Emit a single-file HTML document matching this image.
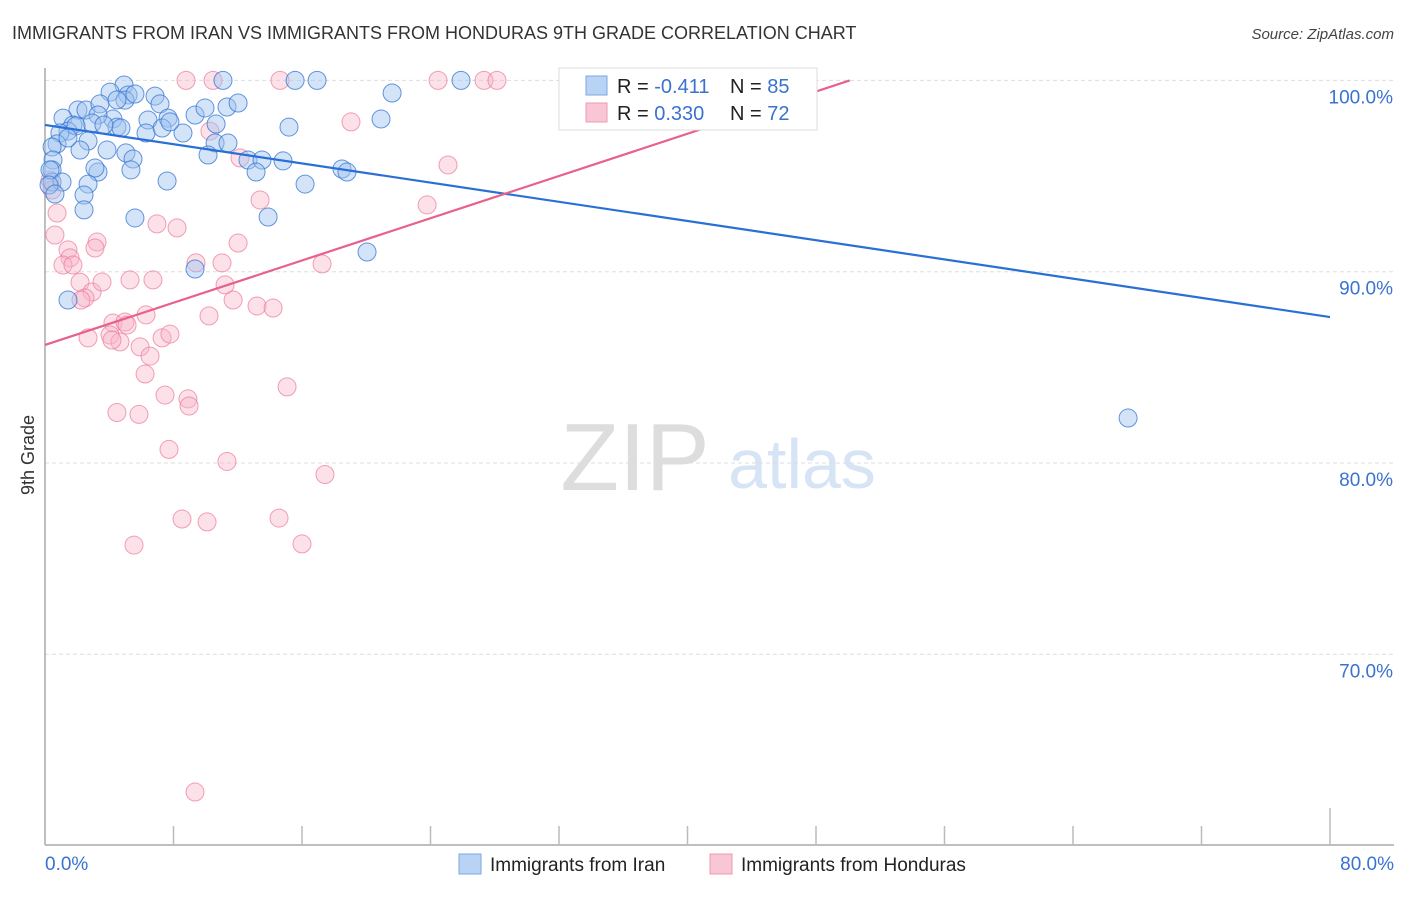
<!DOCTYPE html>
<html><head><meta charset="utf-8"><style>
body{margin:0;background:#fff;font-family:"Liberation Sans",sans-serif;}
svg text{font-family:"Liberation Sans",sans-serif;}
</style></head><body>
<svg id="chart" width="1406" height="892" xmlns="http://www.w3.org/2000/svg">
<text x="12" y="39" font-size="18" fill="#333">IMMIGRANTS FROM IRAN VS IMMIGRANTS FROM HONDURAS 9TH GRADE CORRELATION CHART</text>
<text x="1394" y="39" font-size="15" fill="#444" text-anchor="end" font-style="italic">Source: ZipAtlas.com</text>
<g><text x="635" y="490" font-size="96" fill="#ddd" text-anchor="middle" font-family="Liberation Serif">ZIP</text><text x="802" y="488" font-size="70" fill="#d6e4f5" text-anchor="middle">atlas</text></g>
<g id="grid"></g><g id="axes"></g><g id="pts"></g><g id="lines"></g>
<text transform="translate(34,455) rotate(-90)" font-size="18" fill="#333" text-anchor="middle">9th Grade</text>
<g>
<rect x="559" y="68" width="258" height="62" fill="#fff" stroke="#ddd"/>
<rect x="586" y="76" width="21" height="19" fill="#b9d3f5" stroke="#7aa7e6"/>
<rect x="586" y="103" width="21" height="19" fill="#f8c6d5" stroke="#ee9ab3"/>
<text x="617" y="93" font-size="20" fill="#222">R = <tspan fill="#3a72d0">-0.411</tspan></text>
<text x="730" y="93" font-size="20" fill="#222">N = <tspan fill="#3a72d0">85</tspan></text>
<text x="617" y="120" font-size="20" fill="#222">R = <tspan fill="#3a72d0"> 0.330</tspan></text>
<text x="730" y="120" font-size="20" fill="#222">N = <tspan fill="#3a72d0">72</tspan></text>
</g>
<g><rect x="459" y="854" width="22" height="20" fill="#b9d3f5" stroke="#7aa7e6"/><text x="490" y="871" font-size="19" fill="#222">Immigrants from Iran</text></g>
<g><rect x="710" y="854" width="22" height="20" fill="#f8c6d5" stroke="#ee9ab3"/><text x="741" y="871" font-size="19" fill="#222">Immigrants from Honduras</text></g>
</svg>
<script>
const yTicks=[100,90,80,70];
const xTickLabels=["0.0%","80.0%"];
const iranX=[4.92,4.05,5.17,6.85,4.98,5.60,7.16,11.33,12.02,2.05,2.55,3.42,4.48,4.23,3.30,1.12,1.74,1.43,0.93,2.68,2.18,0.75,0.44,3.86,5.04,5.48,6.41,7.66,9.34,6.29,7.29,8.59,7.78,10.65,9.96,10.59,11.39,10.15,12.64,13.51,14.82,13.14,5.35,3.30,3.11,2.68,0.50,0.44,0.44,1.06,2.43,2.43,5.60,7.60,13.89,16.19,15.19,18.49,18.80,20.05,20.92,21.61,9.34,1.43,25.90,15.57,16.94,11.08,67.43,4.48,4.73,2.93,3.67,1.93,1.43,0.31,0.25,0.62];
const iranY=[99.76,99.39,99.24,99.18,98.97,99.29,98.77,98.61,98.82,98.45,98.45,98.77,98.98,97.98,98.19,98.03,97.67,97.35,97.25,96.83,96.36,96.68,96.52,96.36,96.21,95.89,97.93,98.03,98.19,97.25,97.51,97.25,97.83,97.72,98.56,96.73,96.73,96.10,95.84,95.84,95.79,95.21,95.32,95.21,95.42,94.58,95.84,95.32,94.69,94.69,94.01,93.23,92.81,94.74,92.86,94.58,97.56,95.37,95.21,91.03,97.98,99.34,90.14,88.52,100,100,100,100,82.35,97.56,97.51,97.77,97.67,97.62,96.99,95.32,94.53,94.06];
const hondX=[8.78,10.46,14.63,24.47,27.33,28.14,41.59,10.27,19.05,25.09,23.79,12.14,13.39,0.31,0.44,0.75,0.62,1.43,3.24,3.11,1.56,1.12,1.74,2.18,2.93,3.55,2.49,2.24,5.29,6.72,6.97,8.22,12.02,9.40,11.02,11.21,11.71,10.21,13.20,14.20,17.25,6.29,4.23,4.98,5.11,4.05,4.67,5.92,7.29,7.78,6.54,6.23,2.68,7.47,8.90,8.97,15.07,4.48,5.85,7.72,11.33,17.43,8.53,10.09,14.57,5.54,16.00,9.34,4.17];
const hondY=[100,100,100,100,100,100,100,97.35,97.83,95.58,93.49,95.95,93.75,94.79,94.27,93.07,91.92,91.14,91.55,91.24,90.72,90.35,90.35,89.45,88.94,89.46,88.63,88.52,89.57,89.57,92.50,92.29,91.50,90.46,90.46,89.31,88.52,87.69,88.21,88.10,90.41,87.74,87.32,87.37,87.21,86.69,86.33,86.07,86.54,86.74,85.59,84.65,86.54,83.55,83.35,82.98,83.98,82.64,82.54,80.71,80.08,79.40,77.07,76.92,77.12,75.71,75.77,62.80,86.43];
const iranTrend=[[0,97.67],[80,87.63]];
const hondTrend=[[0,86.17],[50.1,100.0]];
const X0=45,X1=1330,Y100=80.4,PX10=191.3;
const sx=v=>X0+(X1-X0)*v/80;
const sy=v=>Y100+(100-v)*PX10/10;
const NS="http://www.w3.org/2000/svg";
function mk(tag,attrs,parent){const e=document.createElementNS(NS,tag);for(const k in attrs)e.setAttribute(k,attrs[k]);parent.appendChild(e);return e;}
const grid=document.getElementById('grid'),axes=document.getElementById('axes'),pts=document.getElementById('pts'),lines=document.getElementById('lines');
yTicks.forEach(t=>{
  const l=mk('line',{x1:X0,x2:1394,y1:sy(t),y2:sy(t),stroke:'#ddd','stroke-dasharray':'4,3'},grid);
  
  
  const tx=mk('text',{x:1393,y:sy(t)+23,'font-size':19,fill:'#3a72d0','text-anchor':'end'},grid);
  tx.textContent=t.toFixed(1)+'%';
  
  
});
const ya=mk('line',{x1:X0,x2:X0,y1:68,y2:845,stroke:'#aaa','stroke-width':1.5},axes);


const xa=mk('line',{x1:X0,x2:1394,y1:845,y2:845,stroke:'#aaa','stroke-width':1.5},axes);


for(let i=1;i<=10;i++){const v=i*8;const t=mk('line',{x1:sx(v),x2:sx(v),y1:i==10?808:826,y2:845,stroke:'#bbb','stroke-width':1.5},axes);
  
  }
const xl0=mk('text',{x:45,y:870,'font-size':19,fill:'#3a72d0'},axes);xl0.textContent=xTickLabels[0];


const xl1=mk('text',{x:1394,y:870,'font-size':19,fill:'#3a72d0','text-anchor':'end'},axes);xl1.textContent=xTickLabels[1];


hondX.forEach((x,i)=>{const c=mk('circle',{cx:sx(x),cy:sy(hondY[i]),r:9,fill:'rgba(248,180,200,0.4)',stroke:'rgba(236,120,155,0.7)','stroke-width':1},pts);
  
  });
iranX.forEach((x,i)=>{const c=mk('circle',{cx:sx(x),cy:sy(iranY[i]),r:9,fill:'rgba(160,195,240,0.45)',stroke:'rgba(50,115,210,0.75)','stroke-width':1},pts);
  
  });
const lb=mk('line',{x1:sx(iranTrend[0][0]),y1:sy(iranTrend[0][1]),x2:sx(iranTrend[1][0]),y2:sy(iranTrend[1][1]),stroke:'#2a6fd6','stroke-width':2.2},lines);


const lp=mk('line',{x1:sx(hondTrend[0][0]),y1:sy(hondTrend[0][1]),x2:sx(hondTrend[1][0]),y2:sy(hondTrend[1][1]),stroke:'#e8618c','stroke-width':2.2},lines);


</script>
</body></html>
